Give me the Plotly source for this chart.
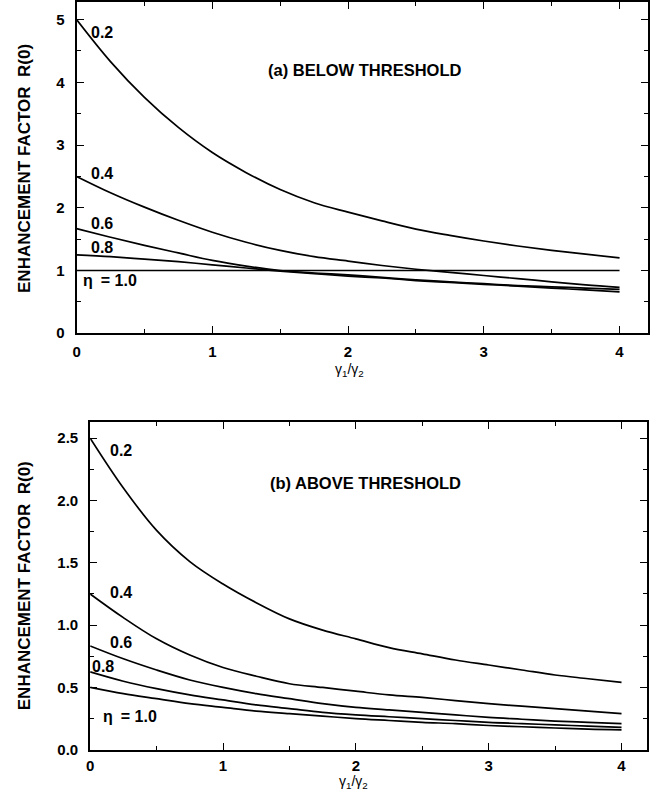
import plotly.graph_objects as go

# ---------------- data ----------------
ratio = [0, 0.25, 0.5, 0.75, 1.0, 1.25, 1.5, 1.75, 2.0, 2.25, 2.5, 2.75, 3.0, 3.25, 3.5, 3.75, 4.0]

eta_labels = ["0.2", "0.4", "0.6", "0.8", "η\u2002= 1.0"]

# (a) below threshold
below_02 = [5.0, 4.33, 3.76, 3.28, 2.88, 2.56, 2.29, 2.08, 1.93, 1.79, 1.66, 1.56, 1.47, 1.39, 1.32, 1.26, 1.20]
below_04 = [2.5, 2.24, 2.01, 1.80, 1.61, 1.45, 1.32, 1.22, 1.15, 1.08, 1.02, 0.97, 0.92, 0.87, 0.82, 0.77, 0.73]
below_06 = [1.667, 1.53, 1.40, 1.28, 1.16, 1.07, 1.00, 0.96, 0.93, 0.89, 0.85, 0.82, 0.79, 0.76, 0.74, 0.72, 0.70]
below_08 = [1.25, 1.22, 1.18, 1.14, 1.09, 1.04, 0.99, 0.95, 0.91, 0.88, 0.84, 0.81, 0.78, 0.75, 0.72, 0.69, 0.66]
below_10 = [1.0] * 17

# (b) above threshold
above_02 = [2.5, 2.10, 1.76, 1.51, 1.33, 1.18, 1.05, 0.96, 0.89, 0.82, 0.77, 0.72, 0.68, 0.64, 0.60, 0.57, 0.54]
above_04 = [1.25, 1.06, 0.89, 0.76, 0.66, 0.59, 0.53, 0.50, 0.47, 0.44, 0.42, 0.395, 0.37, 0.35, 0.33, 0.31, 0.29]
above_06 = [0.833, 0.73, 0.64, 0.56, 0.50, 0.45, 0.41, 0.37, 0.34, 0.32, 0.30, 0.28, 0.26, 0.245, 0.23, 0.22, 0.21]
above_08 = [0.625, 0.55, 0.49, 0.44, 0.40, 0.36, 0.33, 0.30, 0.28, 0.265, 0.25, 0.235, 0.22, 0.21, 0.20, 0.19, 0.18]
above_10 = [0.5, 0.45, 0.41, 0.37, 0.34, 0.31, 0.29, 0.27, 0.25, 0.235, 0.22, 0.21, 0.195, 0.185, 0.175, 0.165, 0.16]

below_series = [below_02, below_04, below_06, below_08, below_10]
above_series = [above_02, above_04, above_06, above_08, above_10]

# label anchor positions (data coords)
below_label_x = [0.19, 0.19, 0.19, 0.19, 0.25]
below_label_y = [4.79, 2.54, 1.75, 1.36, 0.84]
above_label_x = [0.23, 0.23, 0.23, 0.10, 0.30]
above_label_y = [2.40, 1.26, 0.86, 0.67, 0.27]

W, H = 656, 801
FONT = "Liberation Sans"

fig = go.Figure()
for ys in below_series:
    fig.add_trace(go.Scatter(x=ratio, y=ys, mode="lines", xaxis="x", yaxis="y",
                             line=dict(color="black", width=1.7, shape="spline", smoothing=1.0),
                             showlegend=False, hoverinfo="skip"))
for ys in above_series:
    fig.add_trace(go.Scatter(x=ratio, y=ys, mode="lines", xaxis="x2", yaxis="y2",
                             line=dict(color="black", width=1.7, shape="spline", smoothing=1.0),
                             showlegend=False, hoverinfo="skip"))

tickfont = dict(family=FONT, size=15, color="black", weight="bold")

def xaxis_cfg(domain, rng, anchor, standoff):
    return dict(domain=domain, range=rng, anchor=anchor, tickmode="array",
                tickvals=[0, 1, 2, 3, 4], ticktext=["0", "1", "2", "3", "4"],
                ticks="inside", ticklen=7, tickwidth=1.3, tickcolor="black",
                minor=dict(ticks="inside", dtick=0.5, tick0=0, ticklen=4, tickwidth=1, tickcolor="black"),
                showline=True, linewidth=2, linecolor="black", mirror="ticks",
                ticklabelstandoff=standoff,
                showgrid=False, zeroline=False, tickfont=tickfont, fixedrange=True)

def yaxis_cfg(domain, rng, anchor, vals, texts, minor_dtick):
    return dict(domain=domain, range=rng, anchor=anchor, tickmode="array",
                tickvals=vals, ticktext=texts,
                ticks="inside", ticklen=7, tickwidth=1.3, tickcolor="black",
                minor=dict(ticks="inside", dtick=minor_dtick, tick0=0, ticklen=4, tickwidth=1, tickcolor="black"),
                showline=True, linewidth=2, linecolor="black", mirror="ticks",
                ticklabelstandoff=7,
                showgrid=False, zeroline=False, tickfont=tickfont, fixedrange=True)

fig.update_layout(
    width=W, height=H,
    margin=dict(l=0, r=0, t=0, b=0),
    paper_bgcolor="white", plot_bgcolor="white",
    xaxis=xaxis_cfg([73 / W, 648 / W], [0, 4.21], "y", 4),
    yaxis=yaxis_cfg([1 - 336 / H, 1 - 1 / H], [0, 5.28], "x",
                    [0, 1, 2, 3, 4, 5], ["0", "1", "2", "3", "4", "5"], 0.5),
    xaxis2=xaxis_cfg([86.7 / W, 646.7 / W], [0, 4.19], "y2", 1),
    yaxis2=yaxis_cfg([1 - 757.3 / H, 1 - 425.7 / H], [0, 2.63], "x2",
                     [0, 0.5, 1.0, 1.5, 2.0, 2.5], ["0.0", "0.5", "1.0", "1.5", "2.0", "2.5"], 0.25),
)

annots = []
lab_font = dict(family=FONT, size=16, color="black", weight="bold")
for t, x, y in zip(eta_labels, below_label_x, below_label_y):
    annots.append(dict(x=x, y=y, xref="x", yref="y", text=t, showarrow=False,
                       font=lab_font, xanchor="center", yanchor="middle"))
for t, x, y in zip(eta_labels, above_label_x, above_label_y):
    annots.append(dict(x=x, y=y, xref="x2", yref="y2", text=t, showarrow=False,
                       font=lab_font, xanchor="center", yanchor="middle"))

panel_font = dict(family=FONT, size=16.5, color="black", weight="bold")
annots.append(dict(x=2.12, y=4.19, xref="x", yref="y", text="(a) BELOW THRESHOLD",
                   showarrow=False, font=panel_font))
annots.append(dict(x=2.07, y=2.14, xref="x2", yref="y2", text="(b) ABOVE THRESHOLD",
                   showarrow=False, font=panel_font))

ytitle_font = dict(family=FONT, size=17, color="black", weight="bold")
annots.append(dict(x=20 / W, y=1 - 169 / H, xref="paper", yref="paper",
                   text="ENHANCEMENT FACTOR  R(0)", textangle=-90, showarrow=False,
                   font=ytitle_font, xanchor="center", yanchor="middle"))
annots.append(dict(x=20 / W, y=1 - 591 / H, xref="paper", yref="paper",
                   text="ENHANCEMENT FACTOR  R(0)", textangle=-90, showarrow=False,
                   font=ytitle_font, xanchor="center", yanchor="middle"))

xt_font = dict(family=FONT, size=14, color="black")
annots.append(dict(x=348 / W, y=1 - 373 / H, xref="paper", yref="paper",
                   text="γ<sub>1</sub>/γ<sub>2</sub>", showarrow=False, font=xt_font,
                   xanchor="center", yanchor="middle"))
annots.append(dict(x=352 / W, y=0, xref="paper", yref="paper",
                   text="γ<sub>1</sub>/γ<sub>2</sub>", showarrow=False, font=xt_font,
                   xanchor="center", yanchor="bottom"))

fig.update_layout(annotations=annots)

fig.write_html("out.html")
